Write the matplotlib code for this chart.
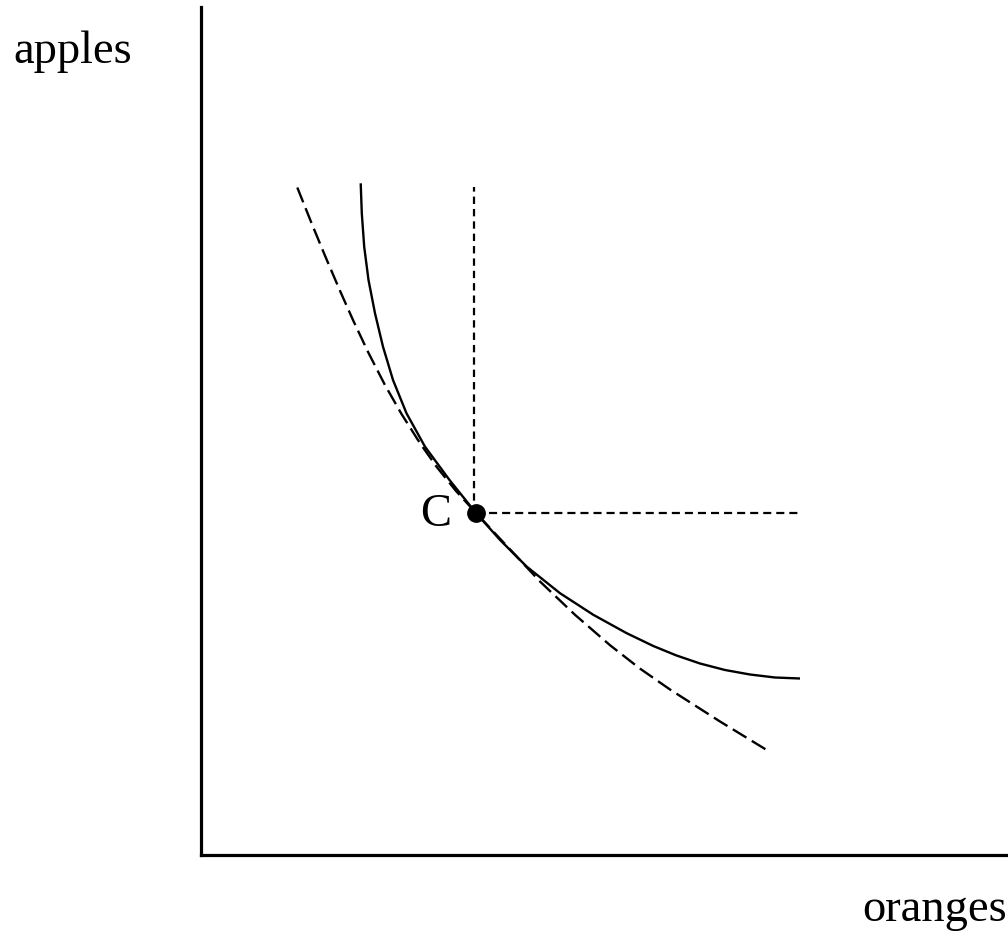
import matplotlib
matplotlib.use("Agg")
import matplotlib.pyplot as plt

plt.rcParams['font.family'] = ['Liberation Serif', 'DejaVu Serif']
plt.rcParams['lines.scale_dashes'] = False

# Indifference curve (solid) (x = oranges, y = apples)
solid_x = [159.7, 160.8, 163.2, 167.5, 174.0, 182.0, 192.0, 205.5, 224.0, 248.5,
           275.0, 299.0, 325.7, 359.0, 392.3, 425.7, 452.3, 475.0, 499.0, 524.0,
           549.0, 574.0, 599.0]
solid_y = [671.7, 641.7, 608.3, 575.0, 541.7, 508.3, 475.0, 441.7, 408.3, 375.0,
           342.0, 315.1, 288.4, 261.8, 240.2, 221.8, 209.0, 199.7, 191.5, 185.0,
           180.5, 177.5, 176.5]

# Budget / tangent curve (dashed)
dash_x = [96.3, 110.7, 124.0, 139.0, 152.3, 167.3, 184.0, 200.7, 219.0, 235.7,
          255.0, 275.0, 339.0, 374.0, 409.0, 439.0, 469.0, 519.0, 569.0]
dash_y = [667.5, 631.5, 599.3, 564.2, 534.3, 502.5, 469.9, 440.7, 411.8, 388.1,
          364.0, 342.0, 273.5, 240.2, 209.8, 186.4, 165.5, 133.5, 103.0]

# Point C and its guide lines
point_c = (275.0, 342.0)
guide_top = 668.0
guide_right = 599.0
labels = {"x": "oranges", "y": "apples", "point": "C"}

W, H = 1008, 952
fig = plt.figure(figsize=(W / 100, H / 100), dpi=100)
ax = fig.add_axes([201 / W, 97 / H, (W - 201) / W, 848 / H])
ax.set_xlim(0, W - 201)
ax.set_ylim(0, 848)
for s in ['top', 'right']:
    ax.spines[s].set_visible(False)
for s in ['left', 'bottom']:
    ax.spines[s].set_linewidth(2.3)
ax.set_xticks([])
ax.set_yticks([])

ax.plot(solid_x, solid_y, color='black', lw=1.7, solid_joinstyle='round',
        solid_capstyle='butt', clip_on=False)
ax.plot(dash_x, dash_y, color='black', lw=1.7, linestyle=(0, (11.5, 4.5)),
        clip_on=False)

cx, cy = point_c
ax.plot([cx - 2, cx - 2], [cy, guide_top], color='black', lw=1.6,
        linestyle=(0, (5.3, 3.6)))
ax.plot([cx, guide_right], [cy, cy], color='black', lw=1.6,
        linestyle=(0, (5.8, 3.6)))
ax.plot([cx], [cy], 'o', color='black', markersize=12.5, zorder=5)

fs = 33.5
fig.text(13 / W, 1 - 63 / H, labels["y"], fontsize=fs, ha='left', va='baseline')
fig.text(862 / W, 1 - 921 / H, labels["x"], fontsize=fs, ha='left', va='baseline')
fig.text(420 / W, 1 - 526.5 / H, labels["point"], fontsize=fs, ha='left', va='baseline')

fig.savefig('out.png', dpi=100)
